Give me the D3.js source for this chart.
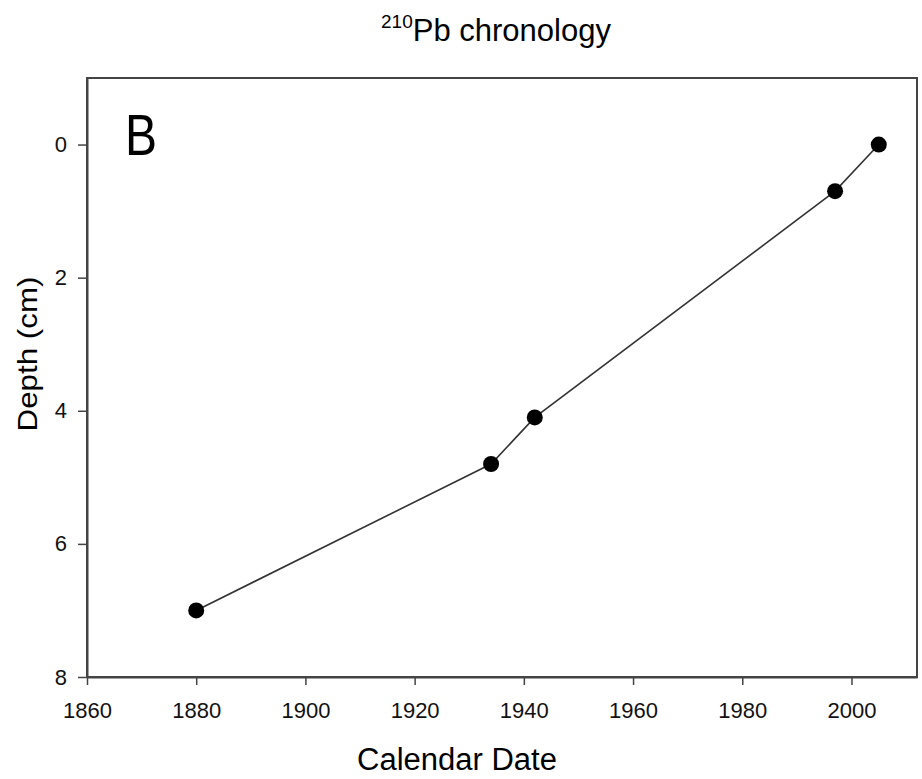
<!DOCTYPE html>
<html>
<head>
<meta charset="utf-8">
<script src="https://cdn.jsdelivr.net/npm/d3@7"></script>
<style>
  body { margin: 0; background: #fff; }
  text { font-family: "Liberation Sans", Arial, sans-serif; }
</style>
</head>
<body>
<div id="chart"></div>
<script>
// data
const years = [1880, 1934, 1942, 1997, 2005];
const depths = [7, 4.8, 4.1, 0.7, 0];
const xTicks = [1860, 1880, 1900, 1920, 1940, 1960, 1980, 2000];
const yTicks = [0, 2, 4, 6, 8];

const width = 922, height = 779;
const margin = { top: 78, right: 5, bottom: 102, left: 87 };
const iw = width - margin.left - margin.right;
const ih = height - margin.top - margin.bottom;

const svg = d3.select("#chart").append("svg")
  .attr("width", width)
  .attr("height", height);

const g = svg.append("g")
  .attr("transform", `translate(${margin.left},${margin.top})`);

const x = d3.scaleLinear().domain([1860, 2012]).range([0, iw]);
const y = d3.scaleLinear().domain([-1, 8]).range([0, ih]);

// frame
g.append("rect")
  .attr("width", iw).attr("height", ih)
  .attr("fill", "none").attr("stroke", "#444").attr("stroke-width", 2);

// axes
const xAxis = g.append("g")
  .attr("transform", `translate(0,${ih})`)
  .call(d3.axisBottom(x).tickValues(xTicks).tickFormat(d3.format("d")).tickSize(8).tickSizeOuter(0));
const yAxis = g.append("g")
  .call(d3.axisLeft(y).tickValues(yTicks).tickSize(9).tickSizeOuter(0));

[xAxis, yAxis].forEach(a => {
  a.select(".domain").attr("stroke", "#444").attr("stroke-width", 2);
  a.selectAll(".tick line").attr("stroke", "#444").attr("stroke-width", 1.5);
  a.selectAll(".tick text")
    .style("font-family", "'Liberation Sans', Arial, sans-serif")
    .style("font-size", "22px")
    .attr("fill", "#111");
});
xAxis.selectAll(".tick text").attr("y", 41).attr("dy", 0);
yAxis.selectAll(".tick text").attr("x", -20);

// line + points
const pts = years.map((yr, i) => ({ yr, d: depths[i] }));
g.append("path")
  .datum(pts)
  .attr("fill", "none")
  .attr("stroke", "#333")
  .attr("stroke-width", 1.6)
  .attr("d", d3.line().x(p => x(p.yr)).y(p => y(p.d)));

g.selectAll("circle")
  .data(pts)
  .enter()
  .append("circle")
  .attr("cx", p => x(p.yr))
  .attr("cy", p => y(p.d))
  .attr("r", 8)
  .attr("fill", "#000");

// panel letter
g.append("text")
  .attr("x", 38).attr("y", 77)
  .style("font-size", "57px")
  .attr("textLength", 32)
  .attr("lengthAdjust", "spacingAndGlyphs")
  .attr("fill", "#000")
  .text("B");

// title with superscript
const title = svg.append("text")
  .attr("x", 496).attr("y", 41)
  .attr("text-anchor", "middle")
  .style("font-size", "31px")
  .attr("fill", "#000");
title.append("tspan").style("font-size", "19px").attr("dy", -13).text("210");
title.append("tspan").attr("dy", 13).text("Pb chronology");

// axis titles
svg.append("text")
  .attr("x", 457).attr("y", 770)
  .attr("text-anchor", "middle")
  .style("font-size", "31px")
  .attr("fill", "#000")
  .text("Calendar Date");

svg.append("text")
  .attr("transform", "translate(37,354) rotate(-90)")
  .attr("text-anchor", "middle")
  .style("font-size", "28px")
  .attr("textLength", 155)
  .attr("lengthAdjust", "spacingAndGlyphs")
  .attr("fill", "#000")
  .text("Depth (cm)");
</script>
</body>
</html>
